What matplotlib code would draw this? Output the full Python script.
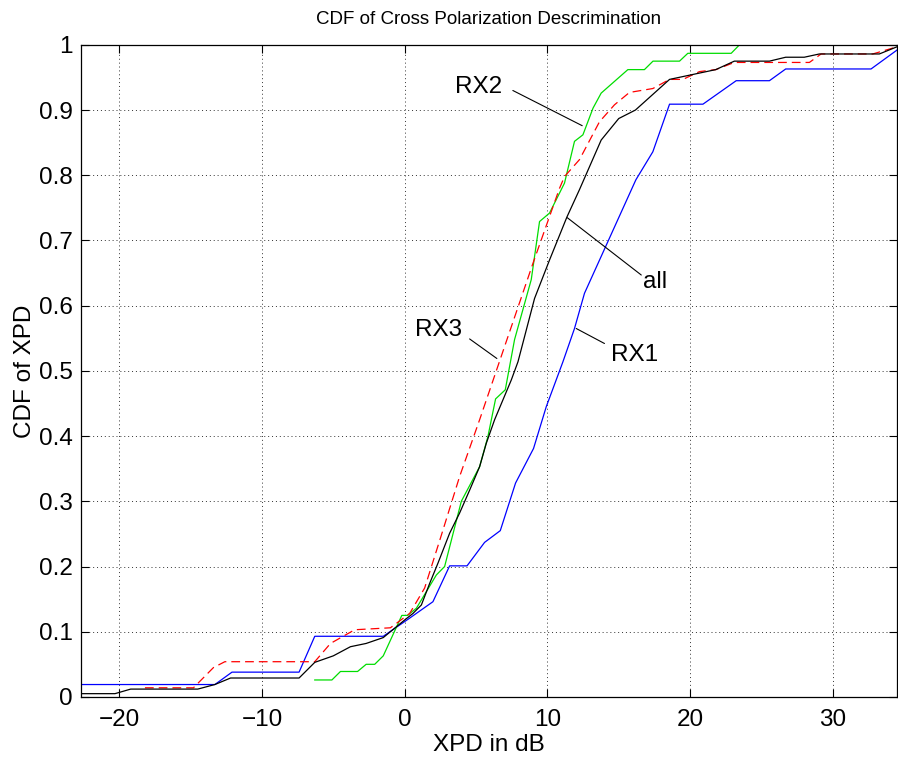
import matplotlib.pyplot as plt

plt.rcParams['font.family'] = ['Liberation Sans', 'DejaVu Sans']

# CDF of XPD per receiver (dB, cumulative probability)
rx1_x = [-22.7, -13.3, -12.1, -7.4, -6.3, -1.5, 0.23, 1.98, 3.15, 4.37, 5.6, 6.7, 7.77,
         9.03, 9.92, 11.09, 11.9, 12.6, 16.2, 17.39, 18.56, 20.9, 23.23, 25.56, 26.7,
         32.68, 34.5]
rx1_y = [0.019, 0.019, 0.038, 0.038, 0.093, 0.093, 0.119, 0.146, 0.201, 0.201, 0.237,
         0.255, 0.328, 0.381, 0.445, 0.514, 0.565, 0.619, 0.793, 0.836, 0.909, 0.909,
         0.945, 0.945, 0.963, 0.963, 0.992]

all_x = [-22.7, -20.3, -19.2, -14.5, -13.3, -12.2, -7.4, -6.3, -5.0, -3.8, -2.7, -1.5,
         0.0, 0.58, 1.17, 1.75, 2.33, 3.15, 3.85, 4.55, 5.25, 5.72, 6.3, 7.47, 7.94, 9.1,
         10.15, 11.37, 12.25, 13.77, 15.0, 16.17, 18.56, 21.8, 23.1, 25.56, 26.7, 28.0,
         29.06, 33.26, 34.5]
all_y = [0.005, 0.005, 0.012, 0.012, 0.019, 0.029, 0.029, 0.053, 0.063, 0.077, 0.082,
         0.091, 0.118, 0.128, 0.141, 0.174, 0.205, 0.251, 0.282, 0.317, 0.353, 0.389,
         0.425, 0.486, 0.514, 0.611, 0.670, 0.736, 0.778, 0.854, 0.887, 0.900, 0.947,
         0.962, 0.975, 0.975, 0.981, 0.981, 0.986, 0.986, 0.997]

rx3_x = [-18.2, -14.8, -13.4, -12.6, -6.3, -5.2, -3.5, -1.0, 0.35, 1.4, 2.57, 3.85, 5.25,
         8.99, 10.85, 11.2, 12.25, 13.65, 14.7, 15.75, 17.39, 18.56, 19.5, 20.66, 21.8,
         23.1, 28.36, 29.18, 32.8, 34.5]
rx3_y = [0.014, 0.014, 0.045, 0.054, 0.054, 0.082, 0.103, 0.106, 0.128, 0.167, 0.248,
         0.338, 0.425, 0.665, 0.780, 0.798, 0.824, 0.882, 0.908, 0.927, 0.933, 0.947,
         0.947, 0.959, 0.962, 0.973, 0.973, 0.986, 0.986, 0.997]

rx2_x = [-6.3, -5.1, -4.5, -3.3, -2.7, -2.1, -1.5, -0.2, 0.2, 0.82, 2.22, 2.8, 3.97,
         5.25, 5.83, 6.37, 7.05, 7.7, 8.87, 9.45, 10.15, 11.2, 11.9, 12.49, 13.2, 13.77,
         15.64, 16.8, 17.4, 19.26, 19.84, 22.88, 23.46]
rx2_y = [0.026, 0.026, 0.039, 0.039, 0.050, 0.050, 0.063, 0.125, 0.125, 0.136, 0.187,
         0.200, 0.300, 0.353, 0.399, 0.457, 0.471, 0.548, 0.640, 0.729, 0.742, 0.788,
         0.852, 0.862, 0.903, 0.926, 0.962, 0.962, 0.975, 0.975, 0.987, 0.987, 1.0]

fig = plt.figure(figsize=(8.98, 7.6), dpi=100)
ax = fig.add_axes([0.0899, 0.083, 0.909, 0.858])

ax.plot(rx1_x, rx1_y, color='#0000ff', lw=0.9)
ax.plot(rx2_x, rx2_y, color='#00dd00', lw=0.9)
ax.plot(rx3_x, rx3_y, color='#ff0000', lw=0.9, linestyle=(0, (7, 4)))
ax.plot(all_x, all_y, color='black', lw=0.9)

ax.set_xlim(-22.7, 34.5)
ax.set_ylim(0, 1)
ax.set_xticks([-20, -10, 0, 10, 20, 30])
ax.set_yticks([i / 10 for i in range(11)])
ax.set_yticklabels(['0', '0.1', '0.2', '0.3', '0.4', '0.5', '0.6', '0.7', '0.8', '0.9', '1'])
ax.tick_params(direction='in', length=6, width=0.8, labelsize=17.5,
               top=True, right=True, pad=6)
ax.tick_params(axis='x', pad=9)
ax.grid(True, color='0.2', lw=0.7, linestyle=(0, (1, 3)))
for s in ax.spines.values():
    s.set_linewidth(0.9)

ax.set_title('CDF of Cross Polarization Descrimination', fontsize=13.5, pad=15)
ax.set_xlabel('XPD in dB', fontsize=17.5, labelpad=2)
ax.set_ylabel('CDF of XPD', fontsize=17.5, labelpad=2)

# curve labels with leader lines
labels = [
    ('RX2', (7.58, 0.930), (12.44, 0.876), (6.86, 0.936), 'right'),
    ('all', (16.58, 0.647), (11.39, 0.735), (16.7, 0.637), 'left'),
    ('RX1', (14.0, 0.542), (12.02, 0.565), (14.45, 0.525), 'left'),
    ('RX3', (4.55, 0.549), (6.46, 0.519), (4.06, 0.563), 'right'),
]
for txt, start, end, pos, ha in labels:
    ax.annotate('', xy=end, xytext=start,
                arrowprops=dict(arrowstyle='-', lw=0.8, color='black',
                                shrinkA=0, shrinkB=0))
    ax.text(pos[0], pos[1], txt, fontsize=17.5, ha=ha, va='center')

fig.savefig('out.png', dpi=100)
